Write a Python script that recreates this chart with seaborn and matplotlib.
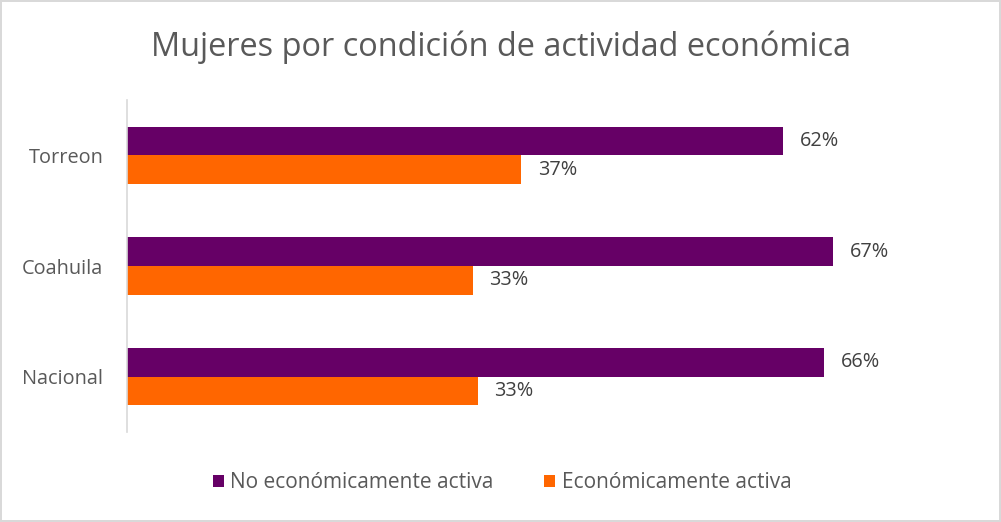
import pandas as pd
import matplotlib.pyplot as plt
import seaborn as sns

# Data
regions = ["Torreon", "Coahuila", "Nacional"]
no_activa = [61.9, 66.6, 65.8]
activa = [37.2, 32.6, 33.1]
series_names = ["No económicamente activa", "Económicamente activa"]
colors = ["#660066", "#FF6600"]

df = pd.DataFrame({
    "region": regions * 2,
    "valor": no_activa + activa,
    "serie": [series_names[0]] * 3 + [series_names[1]] * 3,
})

sns.set_theme(style="white")
plt.rcParams['font.family'] = ['Open Sans', 'DejaVu Sans']

W, H = 1001, 522
fig = plt.figure(figsize=(W / 100, H / 100), dpi=100,
                 edgecolor="#D9D9D9", linewidth=1.5)
ax = fig.add_axes([127 / W, (H - 432) / H, 848 / W, 332 / H])

sns.barplot(data=df, y="region", x="valor", hue="serie", orient="h",
            order=regions, hue_order=series_names, palette=colors,
            width=0.52, saturation=1, linewidth=0, ax=ax)

ax.set_xlim(0, 80)
ax.set_xlabel("")
ax.set_ylabel("")
ax.xaxis.set_visible(False)
for side in ["top", "right", "bottom"]:
    ax.spines[side].set_visible(False)
ax.spines["left"].set_color("#D9D9D9")
ax.spines["left"].set_linewidth(1.2)
ax.tick_params(axis="y", length=0, pad=17, labelsize=14.3, labelcolor="#595959")

# data labels
for cont in ax.containers:
    labels = [f"{round(b.get_width()):.0f}%" for b in cont]
    ax.bar_label(cont, labels=labels, padding=12, fontsize=14.3, color="#404040")

# legend at the bottom
handles, labels = ax.get_legend_handles_labels()
ax.get_legend().remove()
fig.legend(handles, labels, loc="center", bbox_to_anchor=(502 / W, 39 / H),
           ncol=2, frameon=False, fontsize=15, handlelength=0.55,
           handleheight=0.55, handletextpad=0.3, columnspacing=2.4,
           labelcolor="#595959")

fig.text(501 / W, 1 - 47 / H, "Mujeres por condición de actividad económica",
         ha="center", va="center", fontsize=23.4, color="#595959")

fig.savefig("out.png", dpi=100)
